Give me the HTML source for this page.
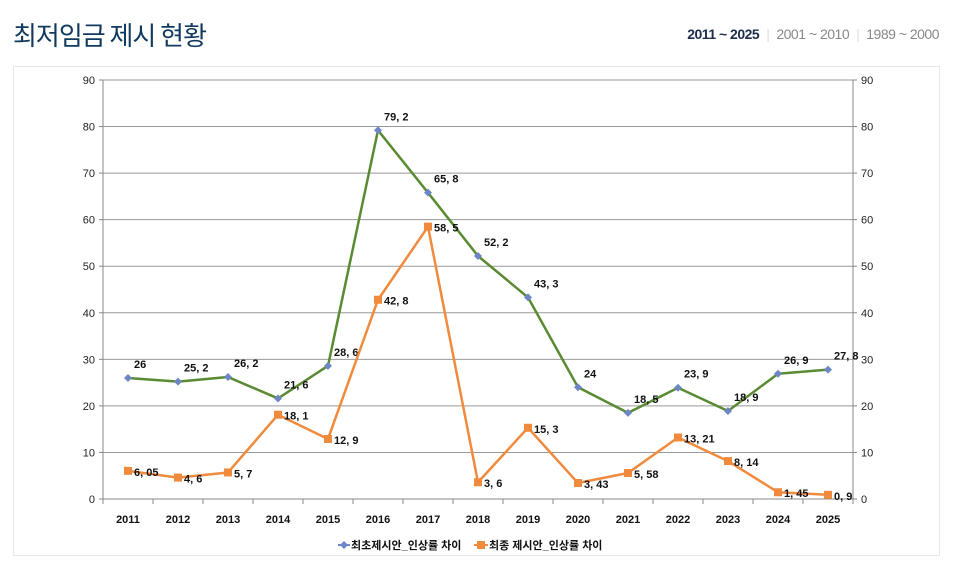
<!DOCTYPE html>
<html><head><meta charset="utf-8">
<style>
body{margin:0;width:953px;height:567px;background:#fff;font-family:"Liberation Sans","Noto Sans CJK KR",sans-serif;overflow:hidden;position:relative}
.title{position:absolute;left:13px;top:16px;font-size:26px;color:#123a5e;letter-spacing:-1px;font-family:"Noto Sans CJK KR",sans-serif}
.tabs{position:absolute;right:14px;top:26px;font-size:14px;color:#888;letter-spacing:-0.5px}
.tabs span{padding:0 7px}
.tabs .on{color:#1b2d4a;font-weight:bold}
.tabs .sep{color:#ddd;padding:0}
.card{position:absolute;left:13px;top:66px;width:925px;height:488px;border:1px solid #e8e8e8}
svg{position:absolute;left:0;top:0}
</style></head><body>
<div class="title">최저임금 제시 현황</div>
<div class="tabs"><span class="on">2011 ~ 2025</span><span class="sep">|</span><span>2001 ~ 2010</span><span class="sep">|</span><span style="padding-right:0">1989 ~ 2000</span></div>
<div class="card"></div>
<svg id="chart" width="953" height="567"></svg>
<script>
const years=["2011","2012","2013","2014","2015","2016","2017","2018","2019","2020","2021","2022","2023","2024","2025"];
const initialGap=[26,25.2,26.2,21.6,28.6,79.2,65.8,52.2,43.3,24,18.5,23.9,18.9,26.9,27.8];
const finalGap=[6.05,4.6,5.7,18.1,12.9,42.8,58.5,3.6,15.3,3.43,5.58,13.21,8.14,1.45,0.9];
const initialLabels=["26","25, 2","26, 2","21, 6","28, 6","79, 2","65, 8","52, 2","43, 3","24","18, 5","23, 9","18, 9","26, 9","27, 8"];
const finalLabels=["6, 05","4, 6","5, 7","18, 1","12, 9","42, 8","58, 5","3, 6","15, 3","3, 43","5, 58","13, 21","8, 14","1, 45","0, 9"];
const yTicks=[0,10,20,30,40,50,60,70,80,90];
const NS="http://www.w3.org/2000/svg";
const svg=document.getElementById('chart');
const L=103,R=853,T=80,B=499,YMAX=90;
const xs=i=>128+i*(R-L)/years.length;
const ys=v=>B-(v/YMAX)*(B-T);
function mk(tag,a,p){const e=document.createElementNS(NS,tag);for(const k in a)e.setAttribute(k,a[k]);(p||svg).appendChild(e);return e;}
yTicks.forEach(t=>{
 const y=ys(t);
 const g=mk('line',{x1:L,x2:R,y1:y,y2:y,stroke:t===0?'#888':'#999','stroke-width':1});
 
 
 mk('line',{x1:L-4,x2:L,y1:y,y2:y,stroke:'#888'});
 mk('line',{x1:R,x2:R+4,y1:y,y2:y,stroke:'#888'});
 const a=mk('text',{x:L-8,y:y+4,'text-anchor':'end','font-size':11,fill:'#222'});a.textContent=t;
 
 
 const b=mk('text',{x:R+8,y:y+4,'font-size':11,fill:'#222'});b.textContent=t;
 
 
});
mk('line',{x1:L,x2:L,y1:T,y2:B,stroke:'#888'});
mk('line',{x1:R,x2:R,y1:T,y2:B,stroke:'#888'});
years.forEach((yr,i)=>{
 const xb=L+i*(R-L)/years.length;
 mk('line',{x1:xb,x2:xb,y1:B,y2:B+5,stroke:'#888'});
 const t=mk('text',{x:xs(i),y:523,'text-anchor':'middle','font-size':11,'font-weight':'bold',fill:'#111'});t.textContent=yr;
 
 
});
mk('line',{x1:R,x2:R,y1:B,y2:B+5,stroke:'#888'});
function series(vals,labels,color,marker,name,lblPos){
 const pl=mk('polyline',{points:vals.map((v,i)=>xs(i)+','+ys(v)).join(' '),fill:'none',stroke:color,'stroke-width':2.5,'stroke-linejoin':'round'});
 
 
 vals.forEach((v,i)=>{
  const x=xs(i),y=ys(v);let m;
  if(marker==='diamond')m=mk('polygon',{points:`${x},${y-4} ${x+4},${y} ${x},${y+4} ${x-4},${y}`,fill:'#6f86c6'});
  else m=mk('rect',{x:x-4,y:y-4,width:8,height:8,fill:'#f08a3c'});
  
  
  const p=lblPos(x,y);
  const t=mk('text',{x:p[0],y:p[1],'font-size':11,'font-weight':'bold',fill:'#111'});t.textContent=labels[i];
  
  
 });
}
series(initialGap,initialLabels,'#5a8a32','diamond','initial-gap',(x,y)=>[x+6,y-10]);
series(finalGap,finalLabels,'#f08a3c','square','final-gap',(x,y)=>[x+6,y+5]);
const lg=mk('g',{});


mk('line',{x1:338,x2:350,y1:545,y2:545,stroke:'#6f86c6','stroke-width':2},lg);
mk('polygon',{points:'344,541 348,545 344,549 340,545',fill:'#6f86c6'},lg);
const l1=mk('text',{x:351,y:549,'font-size':11,'font-weight':'bold',fill:'#111'},lg);l1.textContent='최초제시안_인상률 차이';


mk('line',{x1:474,x2:488,y1:545,y2:545,stroke:'#f08a3c','stroke-width':2},lg);
mk('rect',{x:477,y:541,width:8,height:8,fill:'#f08a3c'},lg);
const l2=mk('text',{x:489,y:549,'font-size':11,'font-weight':'bold',fill:'#111'},lg);l2.textContent='최종 제시안_인상률 차이';


</script>
</body></html>
